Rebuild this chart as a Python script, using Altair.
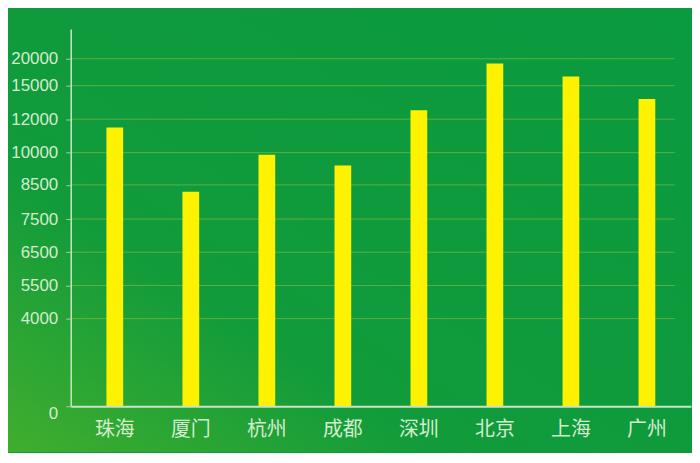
import altair as alt
import pandas as pd

cities = ["珠海", "厦门", "杭州", "成都", "深圳", "北京", "上海", "广州"]
values = [11500, 8300, 9900, 9400, 12800, 19100, 16700, 13800]
tick_values = [0, 4000, 5500, 6500, 7500, 8500, 10000, 12000, 15000, 20000]

df = pd.DataFrame({"city": cities, "value": values})
grid_df = pd.DataFrame({"v": tick_values[1:]})

W, H = 623, 379
PAD = {"left": 63, "top": 20, "right": 1, "bottom": 46}

# piecewise (uneven) value axis as in the original picture
y_domain = tick_values + [25000]
y_range = [378.7, 291, 257.7, 224.3, 191, 156.7, 124.3, 90.7, 57, 30, 0]
yscale = alt.Scale(domain=y_domain, range=y_range, zero=False, nice=False)
xscale = alt.Scale(paddingInner=0.78, paddingOuter=0.47)

label_color = "#d4ecce"

bg = alt.Chart(alt.Data(values=[{"a": 1}])).mark_rect(
    color=alt.LinearGradient(
        gradient="linear",
        x1=1, y1=0, x2=0, y2=1,
        stops=[
            alt.GradientStop(offset=0, color="#0a9a40"),
            alt.GradientStop(offset=0.68, color="#119b3b"),
            alt.GradientStop(offset=1, color="#40ae2e"),
        ],
    )
).encode(
    x=alt.value(-PAD["left"]), x2=alt.value(W + PAD["right"]),
    y=alt.value(-PAD["top"]), y2=alt.value(H + PAD["bottom"]),
)

grid = alt.Chart(grid_df).mark_rule(color="#9cc23c", strokeWidth=1, opacity=0.55).encode(
    y=alt.Y("v:Q", scale=yscale),
    x=alt.value(0),
    x2=alt.value(607),
)

bars = alt.Chart(df).mark_bar(color="#fff200").encode(
    x=alt.X(
        "city:N", sort=cities, scale=xscale,
        axis=alt.Axis(
            title=None, ticks=False, labelAngle=0, labelFont="Noto Sans CJK SC",
            labelFontSize=20, labelColor=label_color, labelPadding=13,
            domainColor="#c8e4c4", domainWidth=2, zindex=1,
        ),
    ),
    y=alt.Y(
        "value:Q", scale=yscale,
        axis=alt.Axis(
            title=None, values=tick_values, format="d", grid=False,
            labelFont="Liberation Sans", labelFontSize=17, labelColor=label_color,
            labelPadding=8, tickSize=5, tickColor="#9fd09a",
            domainColor="#c8e4c4", domainWidth=1.5, zindex=1,
            labelBaseline=alt.condition("datum.value == 0", alt.value("top"), alt.value("middle")),
        ),
    ),
    y2=alt.datum(0),
)

chart = alt.layer(bg, grid, bars).properties(
    width=W, height=H,
    autosize=alt.AutoSizeParams(type="none"),
    padding=PAD,
    background="#109a3c",
).configure_view(stroke=None)

chart.save("out.html", embed_options={"renderer": "svg", "actions": False})
